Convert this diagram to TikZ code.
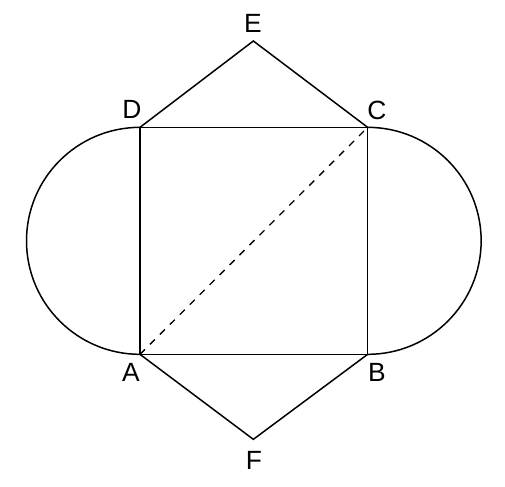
\documentclass[tikz,border=0pt]{standalone}
\usepackage{fontspec}
\setmainfont{Liberation Sans}
\begin{document}
\begin{tikzpicture}[line width=0.85pt, every node/.style={font=\fontsize{15}{18}\selectfont}]

% Frame
\useasboundingbox (0,0) rectangle (10.1,9.74);

% Corner points
\coordinate (A) at (2.80,2.653);
\coordinate (B) at (7.353,2.653);
\coordinate (C) at (7.353,7.193);
\coordinate (D) at (2.80,7.193);
\coordinate (E) at (5.067,8.92);
\coordinate (F) at (5.067,0.953);

% Square
\draw (A) -- (B) -- (C) -- (D) -- cycle;

% Triangles on top and bottom
\draw (D) -- (E) -- (C);
\draw (A) -- (F) -- (B);

% Semicircles on the sides
\draw (D) arc (90:270:2.27);
\draw (B) arc (-90:90:2.27);

% Diagonal
\draw[dash pattern=on 4pt off 4pt, line width=0.75pt] (A) -- (C);

% Labels
\node (lA) at (2.62,2.29) {A};
\node (lB) at (7.54,2.29) {B};
\node (lC) at (7.54,7.54) {C};
\node (lD) at (2.64,7.55) {D};
\node (lE) at (5.06,9.27) {E};
\node (lF) at (5.08,0.54) {F};

\end{tikzpicture}
\end{document}
